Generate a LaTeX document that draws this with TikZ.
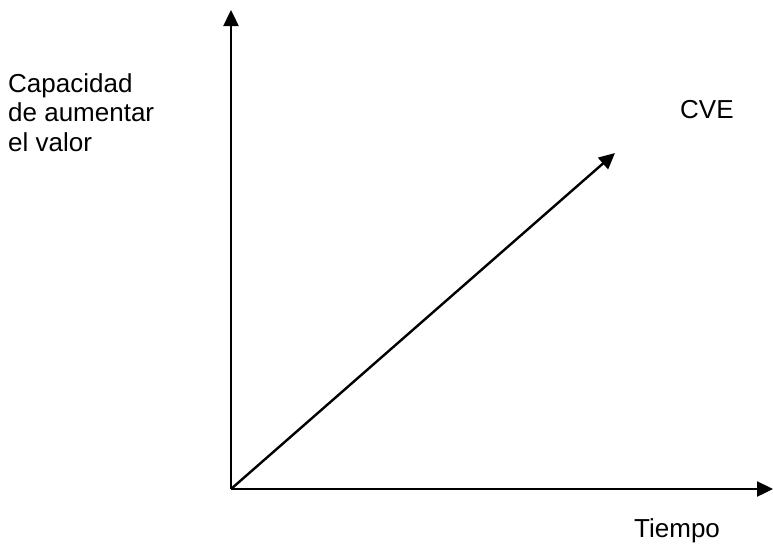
\documentclass[tikz,border=0pt]{standalone}
\usepackage{fontspec}
\setmainfont{Liberation Sans}
\usetikzlibrary{arrows.meta}
\begin{document}
\begin{tikzpicture}[x=1pt,y=-1pt,
  axis/.style={line width=2.4pt,-{Triangle[length=16pt,width=15pt]}},
  lbl/.style={font=\fontsize{26}{29.5}\selectfont,inner sep=0pt,anchor=base west}]
\useasboundingbox (0,0) rectangle (773,544);
\coordinate (O) at (231,489);
\coordinate (Ytop) at (231,10);
\coordinate (Xend) at (773,489);
\coordinate (D) at (615,153);
\draw[axis] (O) -- (Ytop);
\draw[axis] (O) -- (Xend);
\draw[axis] (O) -- (D);
\node[lbl] (ylab1) at (8,92) {Capacidad};
\node[lbl] (ylab2) at (8,121.5) {de aumentar};
\node[lbl] (ylab3) at (8,151) {el valor};
\node[lbl] (cve) at (680,118) {CVE};
\node[lbl] (tiempo) at (634,537) {Tiempo};
\end{tikzpicture}
\end{document}
